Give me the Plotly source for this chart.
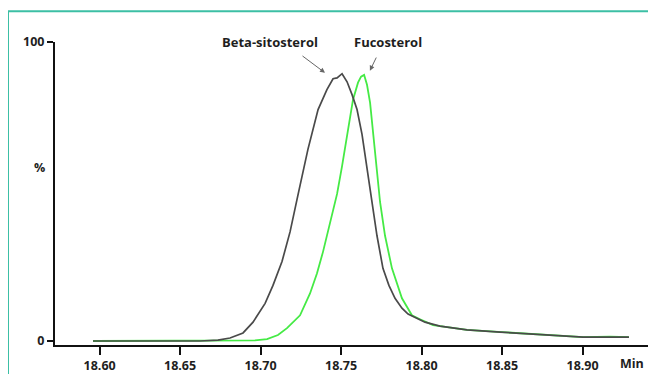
import plotly.graph_objects as go

# Retention time (min) and relative intensity (%)
beta_time = [18.5959, 18.6189, 18.6437, 18.6624, 18.6735, 18.6810, 18.6891, 18.6953,
             18.7028, 18.7077, 18.7133, 18.7183, 18.7232, 18.7294, 18.7357, 18.7412,
             18.7450, 18.7475, 18.7506, 18.7537, 18.7568, 18.7599, 18.7630, 18.7661,
             18.7692, 18.7723, 18.7760, 18.7797, 18.7835, 18.7878, 18.7916, 18.7959,
             18.8021, 18.8114, 18.8282, 18.8487, 18.8798, 18.9003, 18.9170, 18.9288]
beta_pct = [0, 0, 0, 0, 0.3, 1.0, 2.7, 6.3,
            12.6, 18.6, 26.6, 36.5, 48.8, 64.1, 77.4, 84.1,
            87.7, 88.0, 89.4, 86.7, 82.4, 77.4, 69.1, 57.5,
            46.5, 35.2, 24.3, 18.6, 14.3, 11.0, 9.0, 8.0,
            6.3, 5.0, 3.7, 3.0, 2.0, 1.3, 1.3, 1.3]

fuco_time = [18.5959, 18.6624, 18.6872, 18.6965, 18.7040, 18.7108, 18.7164, 18.7245,
             18.7307, 18.7350, 18.7388, 18.7443, 18.7475, 18.7506, 18.7537, 18.7574,
             18.7605, 18.7624, 18.7643, 18.7661, 18.7680, 18.7711, 18.7742, 18.7773,
             18.7816, 18.7878, 18.7940, 18.7990, 18.8071, 18.8282, 18.8487, 18.8798,
             18.9003, 18.9170, 18.9288]
fuco_pct = [0, 0, 0, 0.2, 0.66, 2.0, 4.3, 8.6,
            15.9, 22.6, 29.9, 41.9, 49.2, 58.5, 68.4, 80.7,
            86.4, 88.4, 89.0, 85.7, 79.7, 63.1, 46.5, 35.2,
            24.3, 14.3, 8.6, 7.3, 5.3, 3.7, 3.0, 2.0,
            1.3, 1.5, 1.3]

x_ticks = [18.60, 18.65, 18.70, 18.75, 18.80, 18.85, 18.90]
x_tick_labels = ["18.60", "18.65", "18.70", "18.75", "18.80", "18.85", "18.90"]
y_ticks = [0, 100]
y_tick_labels = ["0", "100"]

FONT = "Open Sans"
TXT = "#1e1e1e"
FS = 12.5

fig = go.Figure()
fig.add_trace(go.Scatter(x=fuco_time, y=fuco_pct, mode="lines", name="Fucosterol",
                         line=dict(color="#45ea45", width=1.8), hoverinfo="x+y"))
fig.add_trace(go.Scatter(x=beta_time, y=beta_pct, mode="lines", name="Beta-sitosterol",
                         line=dict(color="#4a4a4a", width=1.7), hoverinfo="x+y"))

# page body adds an 8px margin, so the figure is 8px smaller on each side
fig.update_layout(
    width=648, height=366,
    margin=dict(l=47, r=0, t=34, b=27),
    paper_bgcolor="white", plot_bgcolor="white",
    showlegend=False,
    font=dict(family=FONT, color=TXT),
)
fig.update_xaxes(
    range=[18.5723, 18.9456], tickvals=x_ticks, ticktext=x_tick_labels,
    showgrid=False, zeroline=False,
    showline=True, linecolor="#111", linewidth=2,
    ticks="outside", ticklen=8, tickwidth=2, tickcolor="#111",
    tickfont=dict(family=FONT, size=FS, color=TXT, weight="bold"),
)
fig.update_yaxes(
    range=[-1.33, 100], tickvals=y_ticks, ticktext=y_tick_labels,
    showgrid=False, zeroline=False,
    showline=True, linecolor="#111", linewidth=2,
    ticks="outside", ticklen=6, tickwidth=2, tickcolor="#111",
    tickfont=dict(family=FONT, size=FS, color=TXT, weight="bold"),
)

# Peak labels with arrows
fig.add_annotation(x=18.706, y=100, xref="x", yref="y", text="Beta-sitosterol",
                   showarrow=False, font=dict(family=FONT, size=13, color=TXT, weight="bold"))
fig.add_annotation(x=18.7791, y=100, xref="x", yref="y", text="Fucosterol",
                   showarrow=False, font=dict(family=FONT, size=13, color=TXT, weight="bold"))
fig.add_annotation(x=18.7400, y=89.7, ax=18.7251, ay=95.7, xref="x", yref="y",
                   axref="x", ayref="y", text="", showarrow=True,
                   arrowhead=2, arrowsize=1, arrowwidth=1, arrowcolor="#666")
fig.add_annotation(x=18.7679, y=90.4, ax=18.7723, ay=95.3, xref="x", yref="y",
                   axref="x", ayref="y", text="", showarrow=True,
                   arrowhead=2, arrowsize=1, arrowwidth=1, arrowcolor="#666")

# Axis labels
fig.add_annotation(x=0.984, y=-0.062, xref="paper", yref="paper", text="Min",
                   showarrow=False, xanchor="right", yanchor="middle",
                   font=dict(family=FONT, size=FS, color=TXT, weight="bold"))
fig.add_annotation(x=-0.025, y=0.587, xref="paper", yref="paper", text="%",
                   showarrow=False, xanchor="center", yanchor="middle",
                   font=dict(family=FONT, size=FS, color=TXT, weight="bold"))

# Teal frame (top and left edges)
fig.add_shape(type="line", xref="paper", yref="paper", x0=-0.0782, y0=-0.2,
              x1=-0.0782, y1=1.1016, line=dict(color="#3cbfa5", width=2))
fig.add_shape(type="line", xref="paper", yref="paper", x0=-0.0782, y0=1.1016,
              x1=1.05, y1=1.1016, line=dict(color="#3cbfa5", width=2))

fig.write_html("out.html")
